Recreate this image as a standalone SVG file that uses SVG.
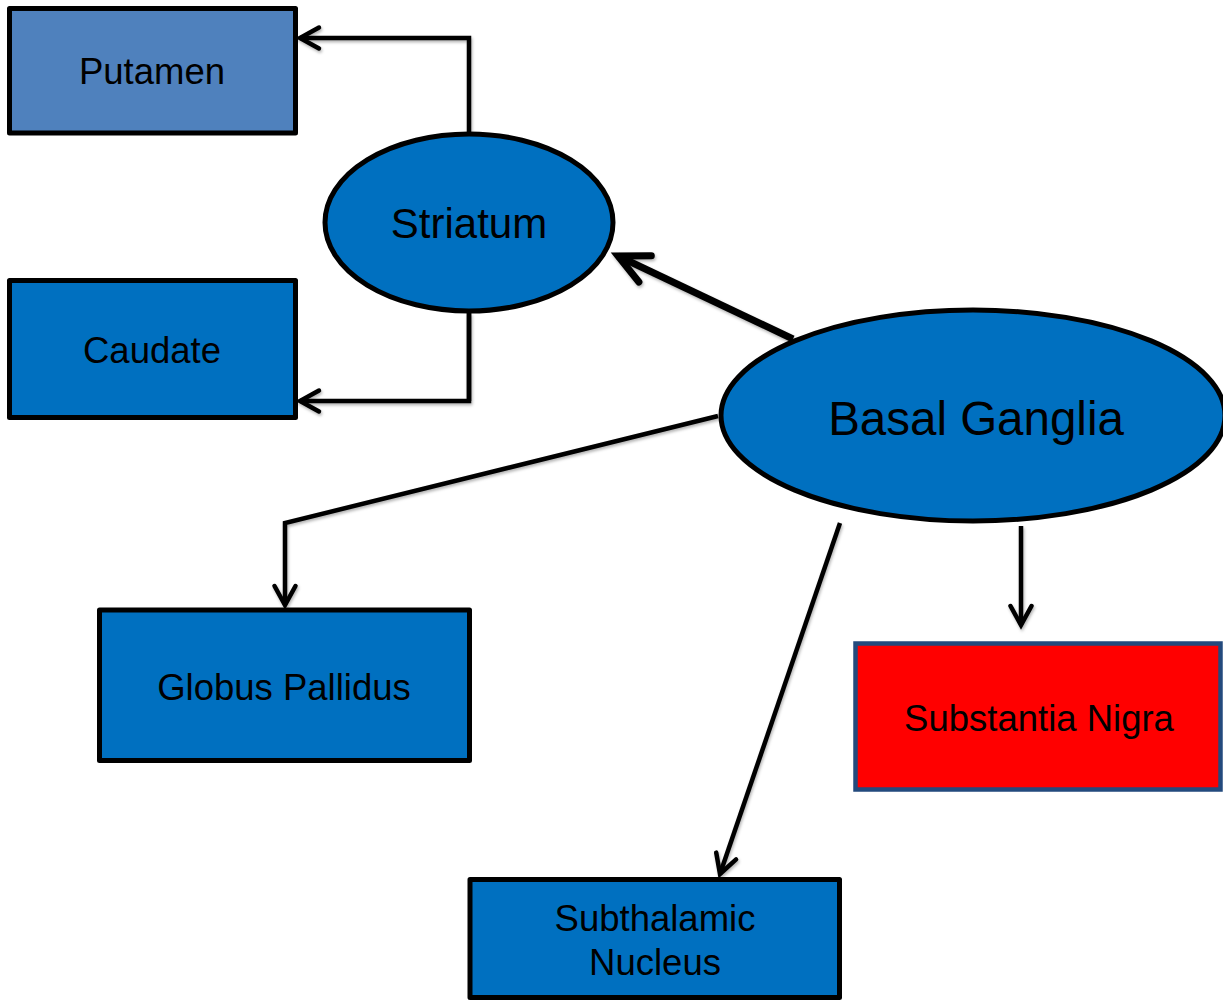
<svg xmlns="http://www.w3.org/2000/svg" width="1223" height="1001" viewBox="0 0 1223 1001">
  <style>
    .box { fill: #0070C0; stroke: #000; stroke-width: 5; stroke-linejoin: round; }
    .oval { fill: #0070C0; stroke: #000; stroke-width: 5; }
    .lbl { font-family: "Liberation Sans", Arial, sans-serif; fill: #000; text-anchor: middle; }
    .sm { font-size: 36.5px; }
    .link { fill: none; stroke: #000; stroke-width: 4.5; stroke-linejoin: miter; }
    .thick { stroke-width: 7; }
  </style>
  <defs>
    <filter id="shade" x="-10%" y="-10%" width="120%" height="120%">
      <feDropShadow dx="1" dy="2" stdDeviation="1.5" flood-color="#000" flood-opacity="0.3"/>
    </filter>
    <!-- open chevron heads, drawn 1:1 in user units -->
    <marker id="chev" markerUnits="userSpaceOnUse" markerWidth="28" markerHeight="28" viewBox="-24 -14 28 28" refX="0" refY="0" orient="auto" overflow="visible">
      <path d="M-19,-10.5 L0,0 L-19,10.5" fill="none" stroke="#000" stroke-width="4.5" stroke-linecap="round" stroke-linejoin="miter"/>
    </marker>
    <marker id="chevBig" markerUnits="userSpaceOnUse" markerWidth="40" markerHeight="40" viewBox="-36 -20 40 40" refX="0" refY="0" orient="auto" overflow="visible">
      <path d="M-30,-14.5 L0,0 L-30,14.5" fill="none" stroke="#000" stroke-width="7" stroke-linecap="round" stroke-linejoin="miter"/>
    </marker>
  </defs>

  <!-- connectors -->
  <g id="connectors" filter="url(#shade)">
    <polyline class="link" points="469,132 469,38 300,38" marker-end="url(#chev)"/>
    <polyline class="link" points="469,313 469,401 300,401" marker-end="url(#chev)"/>
    <line class="link" x1="469" y1="313" x2="469" y2="401" stroke-width="6.5"/>
    <line class="link thick" x1="793" y1="339" x2="618" y2="256" marker-end="url(#chevBig)"/>
    <polyline class="link" points="718,416 285,523 285,605" marker-end="url(#chev)"/>
    <line class="link" x1="840" y1="523" x2="720" y2="874" marker-end="url(#chev)"/>
    <line class="link" x1="1021" y1="526" x2="1021" y2="625" marker-end="url(#chev)"/>
  </g>

  <g id="putamen">
    <rect class="box" x="9.5" y="8.5" width="286" height="124.5" style="fill:#4F81BD"/>
    <text class="lbl sm" x="152" y="84">Putamen</text>
  </g>

  <g id="caudate">
    <rect class="box" x="9.5" y="280.5" width="286" height="137"/>
    <text class="lbl sm" x="152" y="363">Caudate</text>
  </g>

  <g id="striatum">
    <ellipse class="oval" cx="469" cy="222.5" rx="144" ry="88.5"/>
    <text class="lbl" x="469" y="238" font-size="42">Striatum</text>
  </g>

  <g id="basal-ganglia">
    <ellipse class="oval" cx="973" cy="415.5" rx="252" ry="105.5"/>
    <text class="lbl" x="976" y="435" font-size="47.5">Basal Ganglia</text>
  </g>

  <g id="globus-pallidus">
    <rect class="box" x="99.5" y="610" width="370" height="150.5"/>
    <text class="lbl sm" x="284" y="700">Globus Pallidus</text>
  </g>

  <g id="substantia-nigra">
    <rect x="855.5" y="643.5" width="365" height="146" fill="#FF0000" stroke="#234A7D" stroke-width="4.5"/>
    <text class="lbl sm" x="1039" y="731">Substantia Nigra</text>
  </g>

  <g id="subthalamic-nucleus">
    <rect class="box" x="470" y="879.5" width="369.5" height="118"/>
    <text class="lbl sm" x="655" y="931">Subthalamic</text>
    <text class="lbl sm" x="655" y="975">Nucleus</text>
  </g>
</svg>
